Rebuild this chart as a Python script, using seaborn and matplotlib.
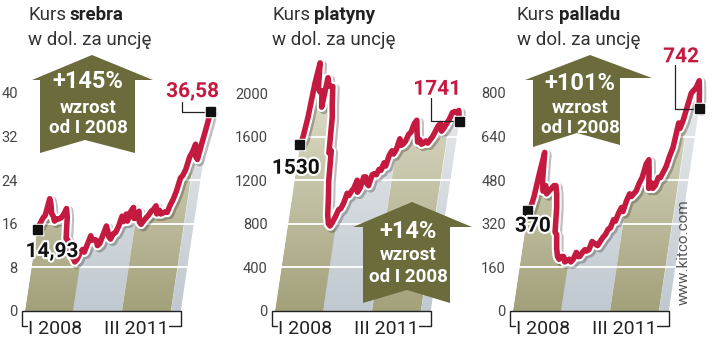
import numpy as np
import matplotlib
matplotlib.use("Agg")
import matplotlib.pyplot as plt
import seaborn as sns
from matplotlib.transforms import Affine2D
from matplotlib.patches import Polygon
from matplotlib.colors import LinearSegmentedColormap
import matplotlib.patheffects as pe

# ---------------- data (half-month steps starting January 2008) ----------------
silver = [14.93, 16.0, 17.0, 17.6, 20.6, 19.6, 17.9, 17.4, 16.5, 16.9, 16.9, 17.1,
          17.7, 18.8, 17.2, 13.3, 13.0, 11.0, 12.2, 10.0, 9.7, 9.0, 9.5, 10.7,
          11.3, 10.8, 12.3, 13.8, 13.0, 13.1, 13.0, 12.0, 12.4, 14.0, 15.6, 14.7,
          13.6, 13.2, 14.2, 14.4, 15.5, 17.4, 16.4, 17.8, 16.5, 18.3, 19.0, 17.0,
          17.0, 18.3, 16.3, 15.9, 16.6, 17.1, 17.6, 18.3, 18.6, 19.3, 17.8, 18.5,
          17.8, 18.0, 18.2, 18.1, 19.5, 20.5, 22.0, 24.4, 24.9, 26.0, 28.3, 29.2,
          30.6, 28.3, 27.8, 30.8, 33.5, 36.58]
platinum = [1530, 1590, 1770, 2100, 2276, 2050, 2010, 2020, 1870, 2140, 2070, 2060,
            2060, 1900, 1780, 1450, 1470, 1190, 1050, 880, 800, 780, 820, 870,
            930, 940, 990, 1080, 1060, 1100, 1130, 1200, 1090, 1130, 1230, 1230,
            1170, 1150, 1250, 1260, 1250, 1300, 1290, 1360, 1330, 1430, 1470, 1440,
            1480, 1580, 1520, 1530, 1560, 1620, 1640, 1720, 1750, 1640, 1550, 1570,
            1530, 1540, 1560, 1540, 1570, 1600, 1650, 1700, 1720, 1650, 1680, 1720,
            1760, 1820, 1830, 1820, 1840, 1741]
palladium = [370, 375, 420, 510, 582, 480, 440, 460, 430, 440, 450, 460,
             460, 430, 380, 290, 280, 230, 200, 190, 200, 200, 180, 185,
             190, 180, 190, 215, 200, 200, 215, 225, 220, 225, 255, 250,
             245, 240, 255, 270, 280, 300, 305, 335, 330, 360, 380, 365,
             405, 430, 420, 430, 440, 470, 490, 540, 555, 510, 450, 470,
             450, 460, 490, 490, 510, 530, 570, 600, 690, 670, 700, 750,
             800, 810, 820, 845, 800, 742]
months = np.arange(len(silver)) * 0.5
year_starts = [0, 12, 24, 36]

names = ["srebra", "platyny", "palladu"]
series = [silver, platinum, palladium]
yticks = [[0, 8, 16, 24, 32, 40],
          [0, 400, 800, 1200, 1600, 2000],
          [0, 160, 320, 480, 640, 800]]
start_labels = ["14,93", "1530", "370"]
end_labels = ["36,58", "1741", "742"]
growth_labels = ["+145%", "+14%", "+101%"]
xlabels = ["I 2008", "III 2011"]

# ---------------- style ----------------
sns.set_style("white")
plt.rcParams["font.family"] = ["Roboto", "DejaVu Sans"]

RED = "#c51a40"
OLIVE = "#6c6b3c"
TXT = "#333333"
olive_cmap = LinearSegmentedColormap.from_list("ol", ["#a3a17a", "#e0dfcc"])
gray_cmap = LinearSegmentedColormap.from_list("gr", ["#c0c9d0", "#e9ecee"])

FW, FH = 720, 340
fig = plt.figure(figsize=(FW / 100, FH / 100), dpi=100)


def fx(x):
    return x / FW


def fy(y):
    return 1 - y / FH


# layout (pixels)
lefts = [22, 272, 510]
title_x = [28, 272, 517]
base_px, tick_top_px, ax_top_px = 311, 93, 45
AW = 200
H = base_px - ax_top_px
PPM = 4.05       # pixels per month on the baseline
K = 0.15         # perspective slant
XMIN = -0.7

start_off = [(15, -22), (-4, -24), (5, -16)]
end_off = [(-18, 20), (-22, 32), (-18, 52)]
conn_off = [(-29, 10), (-28, 23), (-24, 44)]

for i in range(3):
    L = lefts[i]
    ax = fig.add_axes([fx(L), fy(base_px), AW / FW, H / FH])
    ax.set_facecolor("none")
    ticks = yticks[i]
    ppu = (base_px - tick_top_px) / ticks[-1]
    vals = np.asarray(series[i], dtype=float)
    t = months
    s = K * ppu / PPM
    skew = Affine2D(np.array([[1, s, 0], [0, 1, 0], [0, 0, 1]])) + ax.transData

    # clip polygon = area under the line
    verts = np.column_stack([np.r_[t[0], t, t[-1]], np.r_[0, vals, 0]])
    poly = Polygon(verts, closed=True, transform=skew, facecolor="none",
                   edgecolor="none")
    ax.add_patch(poly)
    ytop = H / ppu
    bounds = year_starts + [t[-1]]
    for j in range(len(year_starts)):
        cm = olive_cmap if j % 2 == 0 else gray_cmap
        im = ax.imshow(np.linspace(0, 1, 256)[:, None], cmap=cm, origin="lower",
                       extent=(bounds[j], bounds[j + 1], 0, ytop * 0.85),
                       aspect="auto", transform=skew, zorder=1,
                       interpolation="bilinear")
        im.set_clip_path(poly)

    for tk in ticks[1:]:
        ax.axhline(tk, color="white", lw=1.3, zorder=2)

    sns.lineplot(x=t, y=vals, ax=ax, color=RED, linewidth=4.0, transform=skew,
                 estimator=None, sort=False, zorder=4,
                 path_effects=[pe.SimpleLineShadow(offset=(1.5, -1.5), alpha=0.25, linewidth=7),
                               pe.Stroke(linewidth=7, foreground="white"),
                               pe.Normal()])

    # start / end markers
    for (tt, vv) in [(t[0], vals[0]), (t[-1], vals[-1])]:
        ax.plot([tt], [vv], marker="s", ms=6.5, color="#111111", transform=skew,
                zorder=6, clip_on=False,
                path_effects=[pe.Stroke(linewidth=2.5, foreground="white"), pe.Normal()])

    halo = [pe.withStroke(linewidth=3, foreground="white")]
    ax.annotate(start_labels[i], xy=(t[0], vals[0]), xycoords=skew,
                xytext=start_off[i], textcoords="offset pixels",
                ha="center", va="center", fontsize=15, fontweight="bold",
                color="#111111", zorder=7, path_effects=halo)
    ax.annotate(end_labels[i], xy=(t[-1], vals[-1]), xycoords=skew,
                xytext=end_off[i], textcoords="offset pixels",
                ha="center", va="center", fontsize=15, fontweight="bold",
                color=RED, zorder=7, path_effects=halo)
    ax.annotate("", xy=(t[-1], vals[-1]), xycoords=skew,
                xytext=conn_off[i], textcoords="offset pixels",
                arrowprops=dict(arrowstyle="-", color="#222222", lw=0.9,
                                shrinkA=0, shrinkB=0,
                                connectionstyle="angle,angleA=90,angleB=0,rad=0"),
                zorder=5)

    # axes cosmetics
    ax.set_xlim(XMIN, XMIN + AW / PPM)
    ax.set_ylim(0, ytop)
    ax.set_yticks(ticks)
    ax.set_yticklabels([str(v) for v in ticks])
    ax.set_xticks([])
    ax.tick_params(axis="y", length=0, pad=3, labelsize=10.5, labelcolor="#444444")
    sns.despine(ax=ax, left=True, bottom=True)

    # baseline bracket
    xr = t[-1]
    xt = ax.get_xaxis_transform()
    dy = 15 / H
    hook_l, hook_r = 1.3, 3.0
    ax.plot([XMIN + hook_l, XMIN, XMIN, xr, xr, xr - hook_r],
            [-dy, -dy, 0, 0, -dy, -dy], color="#222222", lw=1.0,
            transform=xt, clip_on=False, zorder=5)
    ax.text(7.4, -dy * 1.2, xlabels[0], transform=xt, ha="center",
            va="center", fontsize=14, color="#222222")
    ax.text(27.6, -dy * 1.2, xlabels[1], transform=xt, ha="center",
            va="center", fontsize=14, color="#222222")

    # titles
    t1 = fig.text(fx(title_x[i]), fy(20), "Kurs", fontsize=13.5, color=TXT,
                  va="baseline", ha="left")
    plt.annotate(names[i], xy=(1, 0), xycoords=t1, xytext=(4, 0),
                 textcoords="offset pixels", fontsize=13.5, fontweight="bold",
                 color="#222222", va="bottom", ha="left",
                 annotation_clip=False)
    fig.text(fx(title_x[i]), fy(45), "w dol. za uncję", fontsize=13.5,
             color=TXT, va="baseline", ha="left")

# growth arrows (decorations) ------------------------------------------------
arrow_shapes = [
    [(32, 80), (92, 55), (153, 80), (135, 80), (135, 153), (85, 140), (40, 153), (40, 80)],
    [(353, 227), (412, 202), (472, 227), (450, 227), (450, 303), (407, 290), (363, 303), (363, 227)],
    [(525, 80), (590, 55), (652, 78), (620, 78), (620, 145), (577, 133), (533, 147), (533, 80)],
]
arrow_text_pos = [(88, 82, 108, 128), (408, 232, 255, 277), (580, 83, 108, 128)]
for i, shp in enumerate(arrow_shapes):
    fig.add_artist(Polygon([(fx(x), fy(y)) for x, y in shp], closed=True,
                           transform=fig.transFigure, facecolor=OLIVE,
                           edgecolor="none", zorder=8))
    cx, y1, y2, y3 = arrow_text_pos[i]
    fig.text(fx(cx), fy(y1), growth_labels[i], ha="center", va="center",
             fontsize=17, fontweight="bold", color="white", zorder=9)
    fig.text(fx(cx), fy(y2), "wzrost", ha="center", va="center",
             fontsize=13.5, fontweight="bold", color="white", zorder=9)
    fig.text(fx(cx), fy(y3), "od I 2008", ha="center", va="center",
             fontsize=13.5, fontweight="bold", color="white", zorder=9)

fig.text(fx(684), fy(252), "www.kitco.com", rotation=90, ha="center",
         va="center", fontsize=11, color="#555555")

fig.savefig("out.png", dpi=100)
